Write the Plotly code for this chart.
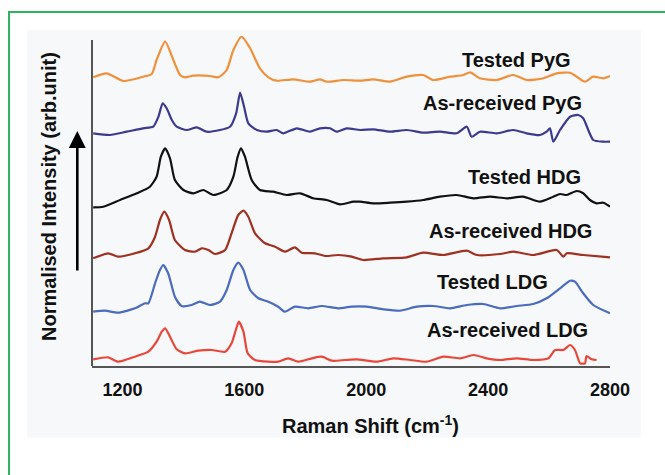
import plotly.graph_objects as go

# ---------------- data (Raman shift in cm^-1, intensity in arb. units incl. stacking offset) -------------
tpyg_x = [1104, 1148, 1203, 1268, 1296, 1312, 1340, 1367, 1389, 1405, 1432, 1487, 1515, 1542, 1564, 1591,
          1619, 1651, 1679, 1706, 1761, 1815, 1848, 1870, 1925, 1980, 2023, 2078, 2133, 2187, 2220, 2275,
          2319, 2341, 2373, 2428, 2483, 2526, 2581, 2625, 2669, 2691, 2718, 2745, 2778, 2800]
tpyg_y = [288.7, 292.7, 285, 289.3, 292, 306, 324.3, 306, 291, 288.7, 290.3, 290, 288.7, 296, 316, 329.3,
          317.7, 297.7, 288.7, 285.3, 286.7, 284.3, 286.7, 284.3, 286, 285.3, 286.7, 284.3, 289.3, 291, 286, 289.3,
          291, 293.7, 287.7, 286, 291, 286, 287.7, 292.7, 293.3, 289.3, 284.3, 289.3, 287.7, 290]

apyg_x = [1104, 1159, 1214, 1268, 1301, 1318, 1332, 1345, 1362, 1378, 1411, 1444, 1476, 1520, 1553, 1573,
          1586, 1599, 1613, 1641, 1673, 1706, 1728, 1772, 1815, 1848, 1881, 1903, 1936, 1980, 2023, 2078,
          2133, 2187, 2242, 2297, 2330, 2346, 2373, 2428, 2483, 2526, 2570, 2592, 2603, 2614, 2636, 2669,
          2696, 2712, 2745, 2778, 2800]
apyg_y = [232.7, 231, 234.3, 237.7, 239.3, 249.3, 262.7, 257.7, 246, 239.3, 236, 238.7, 234.3, 236, 239.3, 252.7,
          273.3, 259.3, 242.7, 236, 234.3, 236, 232.7, 237.7, 234.3, 237.7, 237.7, 234.3, 237.7, 236, 236.7, 234.3,
          236, 233.3, 234.3, 232.7, 239.3, 229.3, 234.3, 232.7, 236, 232.7, 231, 234.3, 237.7, 224.3, 236, 249.3,
          251, 247.7, 226, 224.3, 224.3]

thdg_x = [1104, 1137, 1192, 1247, 1290, 1312, 1326, 1340, 1356, 1372, 1400, 1432, 1465, 1498, 1542, 1564,
          1578, 1589, 1602, 1624, 1651, 1695, 1739, 1783, 1826, 1870, 1914, 1958, 1980, 2023, 2078, 2133,
          2187, 2242, 2297, 2352, 2406, 2461, 2515, 2570, 2614, 2636, 2658, 2691, 2712, 2734, 2756, 2778, 2800]
thdg_y = [158.7, 159.3, 166, 172.7, 179.3, 189.3, 209.3, 217.7, 207.7, 186, 176, 172.7, 176, 171, 176, 189.3,
          209.3, 217.7, 209.3, 186, 176, 174.3, 171, 172.7, 167.7, 166, 161.7, 164.3, 164.3, 162.7, 163.3, 164.3,
          166, 169.3, 171, 167.7, 169.3, 167.7, 169.3, 164.3, 169.3, 172, 171, 175, 172.7, 166, 162.7, 163.3, 159.3]

ahdg_x = [1104, 1153, 1186, 1241, 1285, 1307, 1323, 1337, 1353, 1372, 1405, 1438, 1460, 1482, 1504, 1537,
          1558, 1580, 1597, 1613, 1635, 1668, 1701, 1733, 1766, 1788, 1832, 1865, 1908, 1952, 1990, 2056,
          2133, 2187, 2253, 2330, 2363, 2439, 2483, 2548, 2625, 2647, 2658, 2712, 2800]
ahdg_y = [107.7, 112.7, 109.3, 112.7, 117.7, 129.3, 146, 154.3, 146, 126, 116, 114.3, 117.7, 116, 112, 116,
          132.7, 151, 155.3, 149.3, 132.7, 122.7, 119.3, 114.3, 118.7, 113.3, 112.7, 110, 111, 109.3, 106, 107.7,
          108.7, 113.3, 111, 115.3, 111, 112, 114.3, 111, 116, 109.3, 112.7, 111, 108.7]

tldg_x = [1104, 1143, 1186, 1241, 1274, 1285, 1307, 1323, 1334, 1350, 1372, 1394, 1427, 1454, 1487, 1520,
          1542, 1564, 1580, 1597, 1619, 1646, 1679, 1711, 1733, 1766, 1810, 1854, 1908, 1952, 2002, 2056,
          2111, 2166, 2220, 2275, 2330, 2384, 2439, 2494, 2548, 2592, 2636, 2669, 2685, 2712, 2745, 2800]
tldg_y = [54.3, 55.3, 53.3, 57.7, 62.7, 62.7, 82.7, 96, 101, 92.7, 69.3, 60, 61, 64.3, 61, 64.3,
          76, 96, 103.3, 96, 76, 67.7, 64.3, 59.3, 54.3, 59.3, 57.7, 60, 57.7, 59.3, 59.3, 56.7,
          55.3, 59.3, 60, 57.7, 61, 62, 57.7, 60, 62, 67.7, 77.7, 85.3, 84.3, 72.7, 61, 52.7]

aldg_x = [1104, 1153, 1186, 1241, 1285, 1312, 1329, 1340, 1356, 1378, 1405, 1449, 1493, 1537, 1558, 1572,
          1582, 1597, 1611, 1635, 1679, 1711, 1744, 1777, 1821, 1854, 1887, 1930, 1969, 2034, 2089, 2144,
          2198, 2253, 2308, 2352, 2395, 2439, 2494, 2548, 2598, 2620, 2647, 2669, 2685, 2702, 2718, 2723,
          2740, 2756]
aldg_y = [6.7, 8.7, 4.3, 9.3, 14.3, 24.3, 34.3, 37.7, 29.3, 16.7, 12.7, 15.3, 16, 14.3, 22.7, 36,
          44.3, 34.3, 12.7, 6, 4.3, 4.3, 7.7, 4.3, 7.7, 9.3, 5.3, 6, 6.7, 4.3, 7.7, 6,
          4.3, 9.3, 7.7, 11, 7.7, 6, 7.7, 6, 7.7, 16, 16, 21, 16, 2.7, 2.7, 10,
          6.7, 6]

series_names = ["Tested PyG", "As-received PyG", "Tested HDG", "As-received HDG", "Tested LDG", "As-received LDG"]
series_x = [tpyg_x, apyg_x, thdg_x, ahdg_x, tldg_x, aldg_x]
series_y = [tpyg_y, apyg_y, thdg_y, ahdg_y, tldg_y, aldg_y]
series_colors = ["#F0903A", "#3C3A8F", "#111111", "#A0301F", "#4A6BBE", "#E8473A"]

# label anchor points (data coords)
label_x = [2492, 2447, 2518, 2474, 2413, 2462]
label_y = [306, 263, 189, 135, 84, 36]

tick_vals = [1200, 1600, 2000, 2400, 2800]
tick_text = ["1200", "1600", "2000", "2400", "2800"]

# ---------------- figure -------------
W, H = 665, 475
ML, MR, MT, MB = 92, 55, 36, 109
PW, PH = W - ML - MR, H - MT - MB


def px2paper_x(px):
    return (px - ML) / PW


def py2paper_y(py):
    return (H - MB - py) / PH


fig = go.Figure()
for name, xs, ys, col in zip(series_names, series_x, series_y, series_colors):
    fig.add_trace(go.Scatter(x=xs, y=ys, mode="lines", name=name,
                             line=dict(color=col, width=2.2, shape="spline", smoothing=0.6),
                             showlegend=False, hoverinfo="skip"))

font_family = "Liberation Sans, Arial, sans-serif"
annotations = []
for name, lx, ly in zip(series_names, label_x, label_y):
    annotations.append(dict(x=lx, y=ly, xref="x", yref="y", text=name, showarrow=False,
                            xanchor="center", yanchor="middle",
                            font=dict(family=font_family, size=20, color="#111", weight="bold")))

# axis titles
annotations.append(dict(x=px2paper_x(370), y=py2paper_y(424), xref="paper", yref="paper",
                        text="Raman Shift (cm<sup>-1</sup>)", showarrow=False,
                        xanchor="center", yanchor="middle",
                        font=dict(family=font_family, size=20, color="#111", weight="bold")))
annotations.append(dict(x=px2paper_x(49), y=py2paper_y(197), xref="paper", yref="paper",
                        text="Normalised Intensity (arb.unit)", showarrow=False, textangle=-90,
                        xanchor="center", yanchor="middle",
                        font=dict(family=font_family, size=20, color="#111", weight="bold")))
# upward arrow
annotations.append(dict(x=px2paper_x(77.3), y=py2paper_y(131), xref="paper", yref="paper",
                        ax=0, ay=141, axref="pixel", ayref="pixel", text="", showarrow=True,
                        arrowhead=2, arrowsize=1.3, arrowwidth=2.6, arrowcolor="#000"))

shapes = [
    # light panel
    dict(type="rect", xref="paper", yref="paper", layer="below",
         x0=px2paper_x(27), x1=px2paper_x(641), y0=py2paper_y(437.5), y1=py2paper_y(30),
         fillcolor="#F6F8FA", line=dict(width=0)),
    # green frame
    dict(type="rect", xref="paper", yref="paper", layer="below",
         x0=px2paper_x(9), x1=px2paper_x(700), y0=py2paper_y(520), y1=py2paper_y(12),
         fillcolor="rgba(0,0,0,0)", line=dict(color="#2EB35E", width=2)),
    # y axis line
    dict(type="line", xref="paper", yref="paper", x0=0, x1=0, y0=0, y1=py2paper_y(40),
         line=dict(color="#555", width=2)),
]

fig.update_layout(
    width=W, height=H,
    margin=dict(l=ML, r=MR, t=MT, b=MB, pad=0),
    paper_bgcolor="white", plot_bgcolor="rgba(0,0,0,0)",
    xaxis=dict(range=[1100, 2800], tickvals=tick_vals, ticktext=tick_text,
               showgrid=False, zeroline=False, showline=True, linecolor="#555", linewidth=2,
               ticks="outside", ticklen=6, tickcolor="rgba(0,0,0,0)",
               tickfont=dict(family=font_family, size=18, color="#111", weight="bold")),
    yaxis=dict(range=[0, 330], showgrid=False, zeroline=False, showline=False,
               showticklabels=False, ticks=""),
    annotations=annotations, shapes=shapes,
)

fig.write_html("out.html")
